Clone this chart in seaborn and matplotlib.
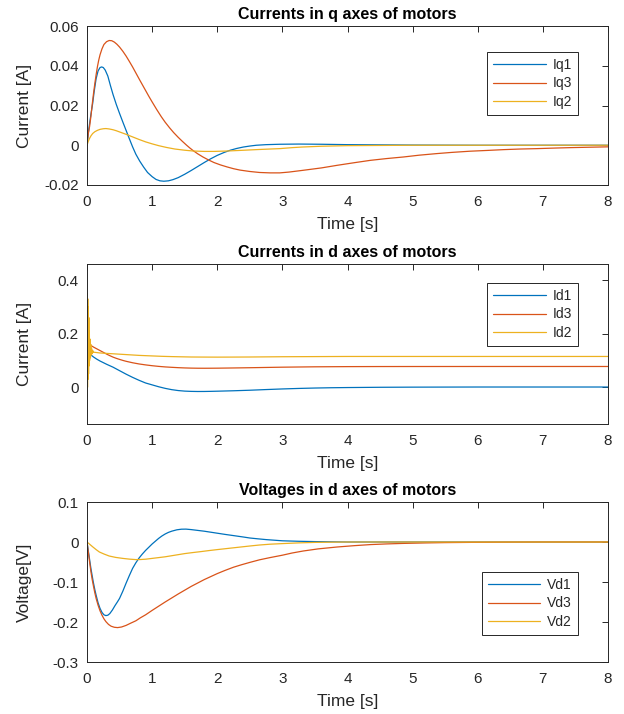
import numpy as np
import pandas as pd
import matplotlib
matplotlib.use("Agg")
import matplotlib.pyplot as plt
import seaborn as sns

# ---------------- data ----------------
# q-axis currents [A]
t_iq1 = [0, 0.02, 0.04, 0.06, 0.087, 0.11, 0.14, 0.17, 0.2, 0.225, 0.25, 0.28, 0.32, 0.36, 0.4, 0.45,
         0.5, 0.55, 0.6, 0.65, 0.7, 0.75, 0.81, 0.87, 0.93, 1.0, 1.06, 1.12, 1.18, 1.25, 1.32, 1.4, 1.5,
         1.6, 1.7, 1.8, 1.9, 2.0, 2.1, 2.2, 2.3, 2.4, 2.5, 2.6, 2.75, 2.96, 3.25, 3.6, 4.0, 4.5, 5.0,
         6.0, 8.0]
iq1 = [0, 0.006, 0.011, 0.0155, 0.021, 0.027, 0.0335, 0.0374, 0.0391, 0.0394, 0.0391, 0.0378, 0.0348,
       0.0300, 0.0255, 0.0205, 0.016, 0.0117, 0.0075, 0.0033, -0.0008, -0.0045, -0.0080, -0.0110,
       -0.0137, -0.0158, -0.0172, -0.0179, -0.0181, -0.0179, -0.0173, -0.0163, -0.0146, -0.0127,
       -0.0107, -0.0087, -0.0068, -0.0051, -0.0037, -0.0025, -0.0016, -0.0009, -0.0004, 0.0, 0.0003,
       0.0005, 0.0006, 0.0005, 0.0003, 0.0002, 0.0001, 0.0, 0.0]

t_iq3 = [0, 0.02, 0.04, 0.06, 0.08, 0.1, 0.12, 0.14, 0.16, 0.18, 0.2, 0.23, 0.26, 0.3, 0.34, 0.38, 0.42,
         0.46, 0.5, 0.55, 0.6, 0.65, 0.7, 0.75, 0.81, 0.88, 0.95, 1.0, 1.07, 1.14, 1.2, 1.27, 1.33, 1.4,
         1.46, 1.53, 1.58, 1.63, 1.7, 1.78, 1.86, 1.95, 2.05, 2.15, 2.25, 2.35, 2.5, 2.65, 2.81, 2.96,
         3.1, 3.32, 3.6, 3.84, 4.1, 4.35, 4.6, 4.86, 5.1, 5.37, 5.6, 5.88, 6.15, 6.4, 6.65, 6.91, 7.2,
         7.42, 7.7, 8.0]
iq3 = [0, 0.006, 0.0095, 0.0145, 0.0205, 0.026, 0.031, 0.0355, 0.0395, 0.0428, 0.0455, 0.0485, 0.0507,
       0.0521, 0.0527, 0.0526, 0.0519, 0.0508, 0.0494, 0.0473, 0.0449, 0.0422, 0.0394, 0.0364, 0.0328,
       0.0287, 0.0246, 0.0218, 0.0180, 0.0144, 0.0116, 0.0087, 0.0064, 0.0040, 0.0021, 0.0, -0.0014,
       -0.0027, -0.0043, -0.0059, -0.0073, -0.0087, -0.0099, -0.0109, -0.0118, -0.0125, -0.0132,
       -0.0137, -0.0139, -0.0139, -0.0135, -0.0126, -0.0114, -0.0101, -0.0088, -0.0076, -0.0067,
       -0.0059, -0.0050, -0.0042, -0.0036, -0.0030, -0.0026, -0.0022, -0.0019, -0.0017, -0.0014,
       -0.0012, -0.0010, -0.0008]

t_iq2 = [0, 0.02, 0.04, 0.06, 0.087, 0.12, 0.16, 0.2, 0.25, 0.29, 0.34, 0.4, 0.45, 0.5, 0.6, 0.7, 0.8,
         0.9, 1.0, 1.1, 1.22, 1.35, 1.5, 1.63, 1.8, 1.95, 2.15, 2.35, 2.6, 2.81, 2.96, 3.15, 3.3, 3.6,
         4.0, 4.5, 5.0, 8.0]
iq2 = [0, 0.002, 0.0035, 0.0047, 0.0059, 0.0068, 0.0075, 0.0080, 0.0083, 0.0084, 0.0082, 0.0078,
       0.0073, 0.0067, 0.0055, 0.0042, 0.0029, 0.0017, 0.0007, -0.0002, -0.0011, -0.0019, -0.0025,
       -0.0029, -0.0031, -0.0031, -0.0029, -0.0026, -0.0022, -0.0019, -0.0017, -0.0012, -0.0009,
       -0.0005, -0.0002, -0.0001, 0.0, 0.0]

# d-axis currents [A]
t_id1 = [0, 0.02, 0.04, 0.06, 0.08, 0.1, 0.15, 0.2, 0.25, 0.3, 0.35, 0.4, 0.45, 0.5, 0.55, 0.6, 0.65,
         0.7, 0.75, 0.8, 0.85, 0.9, 0.95, 1.0, 1.1, 1.2, 1.3, 1.4, 1.5, 1.6, 1.7, 1.8, 1.9, 2.0, 2.25,
         2.5, 2.75, 3.0, 3.25, 3.5, 3.75, 4.0, 4.5, 5.0, 6.0, 7.0, 8.0]
id1 = [0.10, 0.11, 0.117, 0.12, 0.117, 0.113, 0.105, 0.098, 0.092, 0.086, 0.0805, 0.075, 0.0685, 0.062,
       0.0555, 0.049, 0.043, 0.037, 0.0315, 0.026, 0.021, 0.016, 0.0125, 0.009, 0.002, -0.004, -0.0088,
       -0.0122, -0.0143, -0.0153, -0.0157, -0.0156, -0.0152, -0.0146, -0.013, -0.011, -0.0085, -0.0062,
       -0.0043, -0.0028, -0.0017, -0.001, 0.0, 0.0005, 0.001, 0.001, 0.001]

t_id3 = [0, 0.004, 0.008, 0.012, 0.016, 0.020, 0.026, 0.032, 0.038, 0.046, 0.055, 0.06, 0.08, 0.1, 0.15,
         0.2, 0.25, 0.3, 0.35, 0.4, 0.45, 0.5, 0.55, 0.6, 0.7, 0.8, 0.9, 1.0, 1.1, 1.2, 1.3, 1.4, 1.5,
         1.6, 1.7, 1.8, 1.9, 2.0, 2.25, 2.5, 2.75, 3.0, 3.5, 4.0, 4.5, 5.0, 6.0, 8.0]
id3 = [0.22, 0.16, 0.22, 0.15, 0.21, 0.155, 0.19, 0.16, 0.175, 0.162, 0.158, 0.156, 0.153, 0.150,
       0.1435, 0.137, 0.1305, 0.124, 0.118, 0.1125, 0.108, 0.104, 0.1003, 0.097, 0.0915, 0.087, 0.0835,
       0.0805, 0.078, 0.076, 0.0745, 0.0732, 0.0722, 0.0715, 0.0711, 0.071, 0.0711, 0.0713, 0.0721,
       0.073, 0.074, 0.075, 0.0764, 0.0771, 0.0774, 0.0775, 0.0776, 0.0776]

t_id2 = [0, 0.004, 0.008, 0.012, 0.016, 0.020, 0.024, 0.028, 0.032, 0.036, 0.040, 0.046, 0.052, 0.058,
         0.064, 0.070, 0.078, 0.086, 0.094, 0.1, 0.15, 0.2, 0.3, 0.4, 0.5, 0.6, 0.7, 0.8, 0.9, 1.0, 1.15,
         1.3, 1.45, 1.6, 1.8, 2.0, 2.25, 2.5, 3.0, 3.5, 4.0, 8.0]
id2 = [-0.035, 0.35, 0.0, 0.33, 0.03, 0.30, 0.05, 0.26, 0.08, 0.21, 0.10, 0.18, 0.11, 0.16, 0.12, 0.145,
       0.125, 0.138, 0.13, 0.131, 0.1295, 0.128, 0.1265, 0.125, 0.1235, 0.122, 0.1205, 0.119, 0.118,
       0.117, 0.1155, 0.1145, 0.1137, 0.113, 0.1127, 0.1125, 0.1127, 0.113, 0.114, 0.1145, 0.115, 0.115]

# d-axis voltages [V]
t_vd1 = [0, 0.02, 0.04, 0.06, 0.08, 0.1, 0.12, 0.14, 0.17, 0.2, 0.23, 0.26, 0.29, 0.32, 0.35, 0.39,
         0.43, 0.47, 0.5, 0.55, 0.6, 0.65, 0.7, 0.75, 0.8, 0.85, 0.9, 0.95, 1.0, 1.05, 1.1, 1.15, 1.2,
         1.25, 1.3, 1.38, 1.45, 1.52, 1.6, 1.7, 1.8, 1.9, 2.0, 2.12, 2.25, 2.4, 2.5, 2.62, 2.75, 2.9,
         3.0, 3.25, 3.5, 3.75, 4.0, 8.0]
vd1 = [0, -0.022, -0.044, -0.066, -0.085, -0.103, -0.119, -0.133, -0.152, -0.166, -0.176, -0.182,
       -0.184, -0.183, -0.179, -0.170, -0.159, -0.149, -0.141, -0.123, -0.103, -0.084, -0.066, -0.052,
       -0.040, -0.030, -0.021, -0.013, -0.005, 0.002, 0.009, 0.015, 0.020, 0.024, 0.027, 0.0305, 0.032,
       0.0322, 0.031, 0.029, 0.027, 0.0245, 0.022, 0.019, 0.016, 0.0125, 0.010, 0.008, 0.006, 0.0042,
       0.003, 0.0018, 0.001, 0.0005, 0.0, 0.0]

t_vd3 = [0, 0.02, 0.04, 0.06, 0.08, 0.1, 0.12, 0.14, 0.17, 0.2, 0.23, 0.26, 0.29, 0.33, 0.37, 0.42,
         0.47, 0.53, 0.6, 0.67, 0.75, 0.82, 0.9, 1.0, 1.1, 1.2, 1.3, 1.4, 1.5, 1.6, 1.7, 1.8, 1.9, 2.0,
         2.12, 2.25, 2.37, 2.5, 2.65, 2.81, 3.0, 3.15, 3.32, 3.55, 3.84, 4.1, 4.35, 4.6, 4.86, 5.2, 5.5,
         6.0, 6.5, 7.0, 8.0]
vd3 = [0, -0.025, -0.05, -0.074, -0.094, -0.111, -0.127, -0.141, -0.158, -0.172, -0.183, -0.192, -0.199,
       -0.206, -0.2105, -0.2132, -0.214, -0.2125, -0.2085, -0.203, -0.197, -0.1895, -0.182, -0.171,
       -0.1605, -0.150, -0.140, -0.130, -0.1205, -0.111, -0.1025, -0.094, -0.0865, -0.079, -0.071,
       -0.063, -0.057, -0.051, -0.0445, -0.039, -0.033, -0.0275, -0.0225, -0.0172, -0.0125, -0.0092,
       -0.0065, -0.0048, -0.0035, -0.0023, -0.0015, -0.0008, -0.0003, 0.0, 0.0]

t_vd2 = [0, 0.04, 0.087, 0.14, 0.19, 0.26, 0.34, 0.44, 0.55, 0.65, 0.75, 0.82, 0.9, 1.0, 1.1, 1.2, 1.35,
         1.5, 1.62, 1.75, 1.87, 2.0, 2.25, 2.5, 2.65, 2.81, 3.0, 3.25, 3.5, 3.75, 4.0, 8.0]
vd2 = [0, -0.0055, -0.012, -0.019, -0.025, -0.030, -0.035, -0.0385, -0.041, -0.0428, -0.044, -0.0438,
       -0.043, -0.041, -0.039, -0.037, -0.033, -0.029, -0.0265, -0.024, -0.0215, -0.019, -0.0145,
       -0.010, -0.0075, -0.0055, -0.004, -0.0022, -0.001, -0.0004, 0.0, 0.0]

x_ticks = [0, 1, 2, 3, 4, 5, 6, 7, 8]
q_ticks = [-0.02, 0, 0.02, 0.04, 0.06]
q_ticklabels = ["-0.02", "0", "0.02", "0.04", "0.06"]
d_ticks = [0, 0.2, 0.4]
d_ticklabels = ["0", "0.2", "0.4"]
v_ticks = [-0.3, -0.2, -0.1, 0, 0.1]
v_ticklabels = ["-0.3", "-0.2", "-0.1", "0", "0.1"]

colors = ["#0072BD", "#D95319", "#EDB120"]

# ---------------- style ----------------
sns.set_theme(style="white")
plt.rcParams["font.family"] = ["Liberation Sans", "DejaVu Sans"]
edge = "#262626"
plt.rcParams.update({
    "axes.edgecolor": edge,
    "axes.linewidth": 0.7,
    "xtick.color": edge,
    "ytick.color": edge,
    "xtick.labelcolor": edge,
    "ytick.labelcolor": edge,
    "xtick.direction": "in",
    "ytick.direction": "in",
    "xtick.top": True,
    "ytick.right": True,
    "xtick.major.size": 4,
    "ytick.major.size": 4,
    "xtick.major.width": 0.7,
    "ytick.major.width": 0.7,
    "xtick.labelsize": 11,
    "ytick.labelsize": 11,
    "lines.solid_joinstyle": "round",
})


def long_frame(pairs):
    frames = []
    for name, t, v in pairs:
        frames.append(pd.DataFrame({"t": t, "v": v, "series": name}))
    return pd.concat(frames, ignore_index=True)


fig = plt.figure(figsize=(6.24, 7.14), dpi=100)
left, width, height = 87 / 624, 521 / 624, 160 / 714
ax1 = fig.add_axes([left, 1 - 185 / 714, width, 159 / 714])
ax2 = fig.add_axes([left, 1 - 424 / 714, width, height])
ax3 = fig.add_axes([left, 1 - 662 / 714, width, height])

panels = [
    (ax1, [("Iq1", t_iq1, iq1), ("Iq3", t_iq3, iq3), ("Iq2", t_iq2, iq2)],
     "Currents in q axes of motors", "Current [A]", (-0.02, 0.06), q_ticks, q_ticklabels, 0.836),
    (ax2, [("Id1", t_id1, id1), ("Id3", t_id3, id3), ("Id2", t_id2, id2)],
     "Currents in d axes of motors", "Current [A]", (-0.137, 0.46), d_ticks, d_ticklabels, 0.881),
    (ax3, [("Vd1", t_vd1, vd1), ("Vd3", t_vd3, vd3), ("Vd2", t_vd2, vd2)],
     "Voltages in d axes of motors", "Voltage[V]", (-0.3, 0.1), v_ticks, v_ticklabels, 0.5625),
]

for ax, pairs, title, ylabel, ylim, yt, ytl, leg_top in panels:
    df = long_frame(pairs)
    sns.lineplot(data=df, x="t", y="v", hue="series", palette=colors, ax=ax,
                 estimator=None, sort=False, linewidth=0.9)
    ax.set_xlim(0, 8)
    ax.set_ylim(*ylim)
    ax.set_xticks(x_ticks)
    ax.set_xticklabels([str(x) for x in x_ticks])
    ax.set_yticks(yt)
    ax.set_yticklabels(ytl)
    ax.set_title(title, fontsize=11.5, fontweight="bold", color="black", pad=5)
    ax.set_xlabel("Time [s]", fontsize=12.5, color=edge, labelpad=6)
    ax.set_ylabel(ylabel, fontsize=12.5, color=edge)
    ax.yaxis.set_label_coords(-0.106, 0.5)
    ax.tick_params(axis="x", pad=7)
    ax.tick_params(axis="y", pad=6)
    for s in ax.spines.values():
        s.set_visible(True)
    leg = ax.legend(loc="upper right", bbox_to_anchor=(0.942, leg_top), fontsize=10,
                    frameon=True, fancybox=False, framealpha=1, edgecolor=edge,
                    handlelength=3.8, handletextpad=0.5, labelspacing=0.35,
                    borderpad=0.4, borderaxespad=0)
    leg.get_frame().set_linewidth(0.7)
    for line in leg.get_lines():
        line.set_linewidth(0.9)

fig.savefig("out.png", dpi=100)
